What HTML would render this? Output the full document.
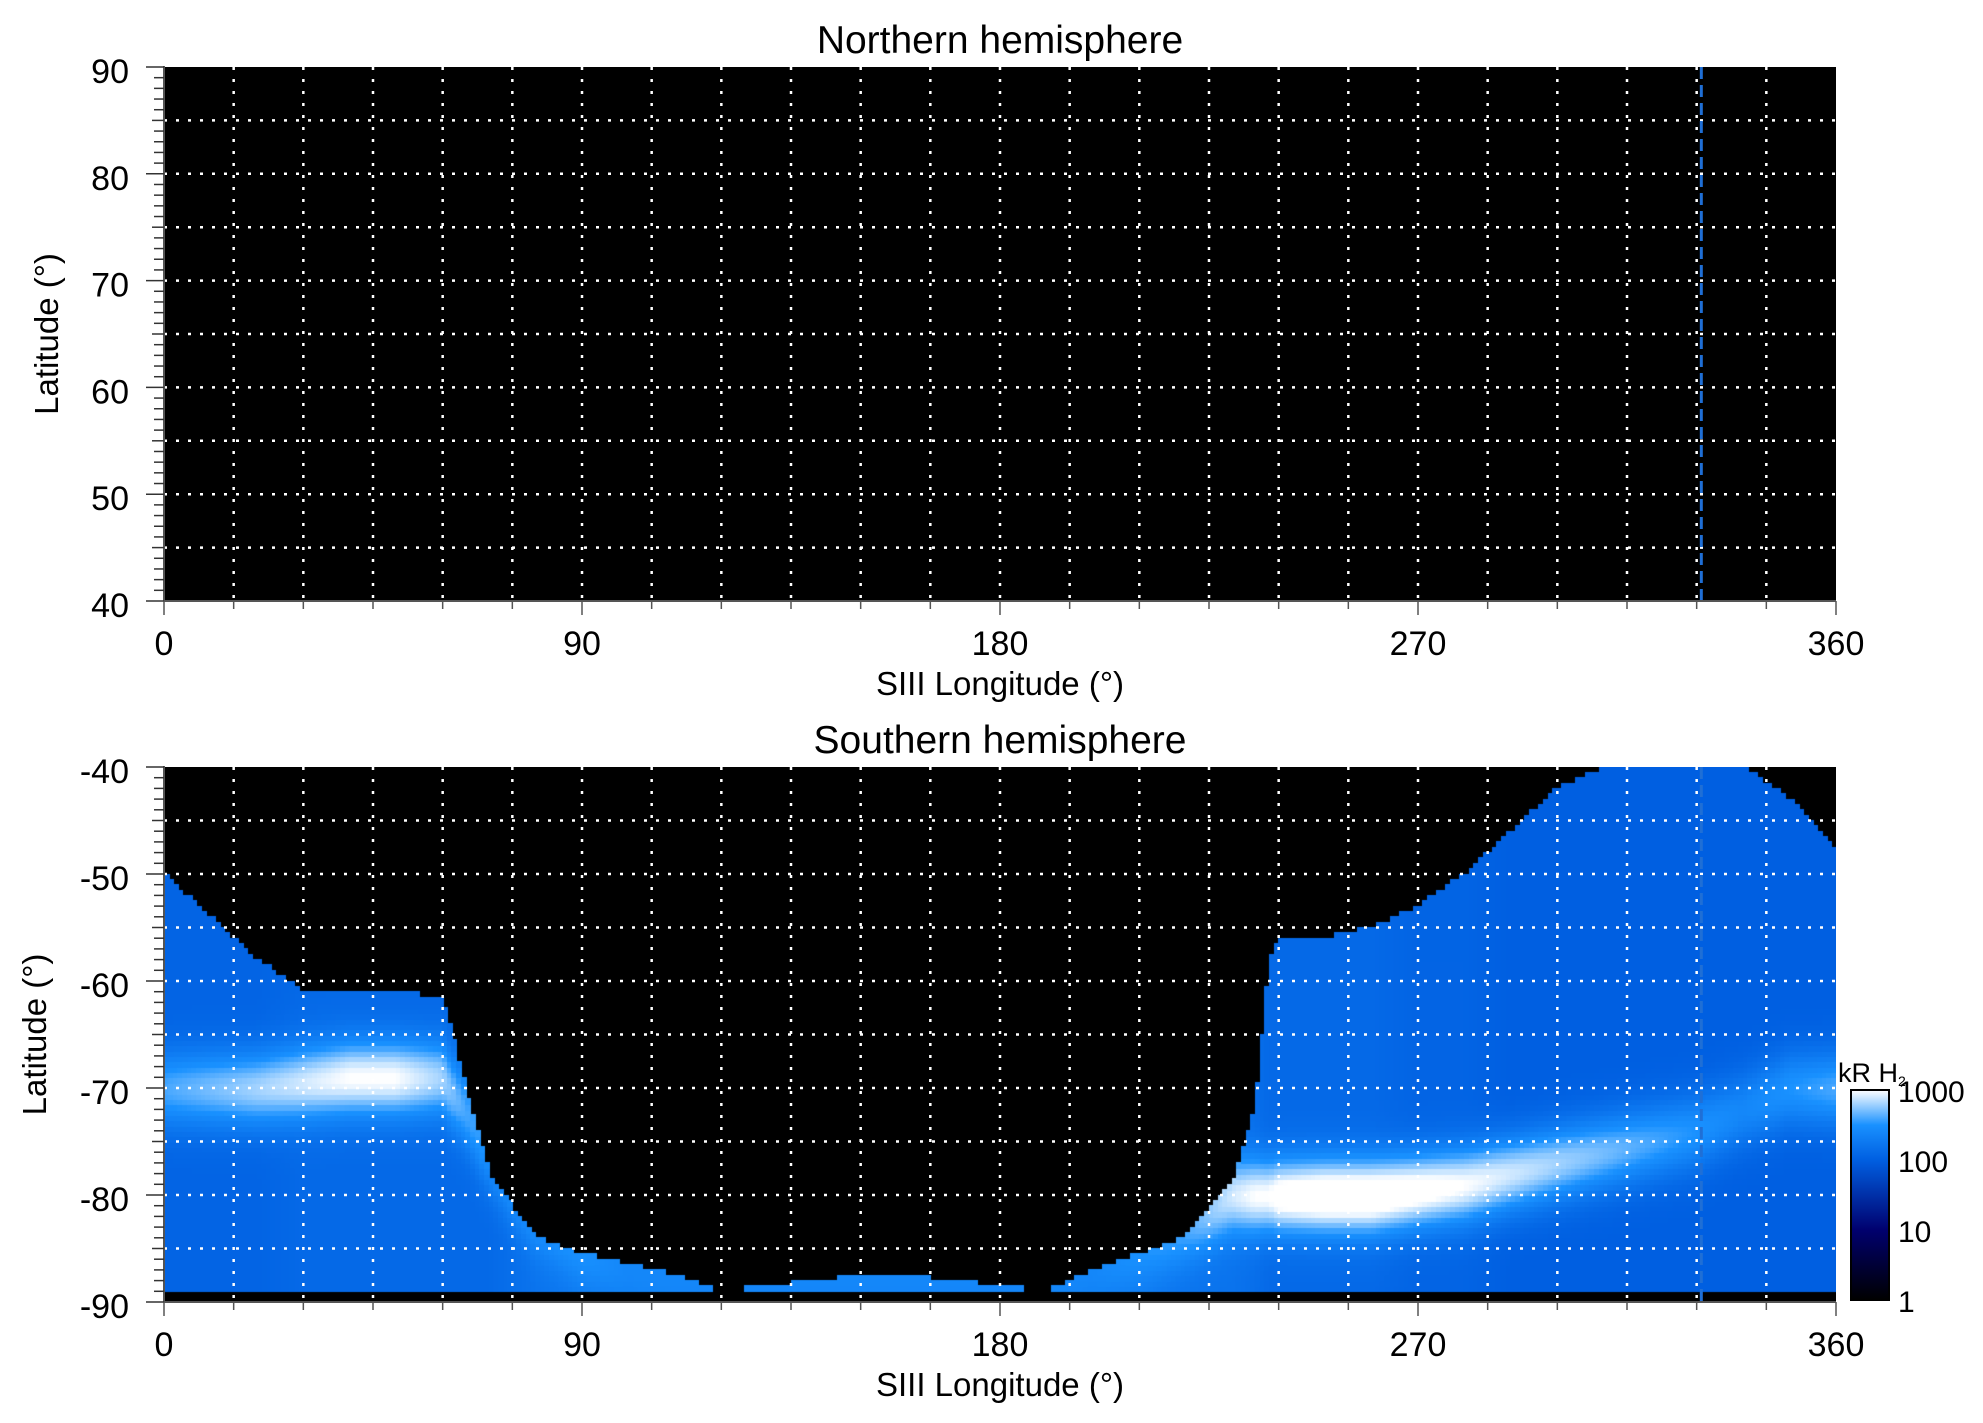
<!DOCTYPE html>
<html><head><meta charset="utf-8">
<style>
body{margin:0;background:#fff;width:1983px;height:1423px;overflow:hidden;font-family:"Liberation Sans",sans-serif;}
svg text{font-family:"Liberation Sans",sans-serif;fill:#000;}
#wrap{position:relative;width:1983px;height:1423px;}
canvas{position:absolute;left:164px;top:767px;}
svg{position:absolute;left:0;top:0;}
</style></head>
<body>
<div id="wrap">
<canvas id="heat" width="1672" height="535"></canvas>
<svg id="fig" width="1983" height="1423"></svg>
</div>
<script>
// data
const lonBins = [0,10,20,30,40,50,60,65,70,80,90,100,110,120,130,140,150,160,170,180,190,200,210,220,230,235,238,240,250,260,270,280,290,300,310,320,330,340,350,360];
const coverageLat = [-50,-54,-58,-61,-61,-61,-61.5,-70,-78,-84,-85.5,-86.5,-87.5,-89,-88.5,-88,-87.5,-87.5,-88,-88.5,-89,-87,-85.5,-84,-79,-72,-58,-56,-56,-55,-53,-50,-46,-42,-40,-40,-40,-40,-43,-48];
const ovalLat = [-70,-70,-70,-69.5,-69,-69,-69,-72,-76,-82,-85,-87,-88,-88,-88,-88,-88,-88,-88,-88,-88,-87,-85,-83,-80,-80,-80,-80,-80,-80,-79.5,-79,-78,-77,-76,-75,-74,-72,-70,-70];
const ovalPeak = [2.6,2.7,2.8,2.9,3.0,3.0,2.8,2.6,2.5,2.5,2.5,2.4,2.4,2.4,2.4,2.4,2.4,2.4,2.4,2.4,2.4,2.4,2.5,2.6,2.9,3.0,3.0,3.1,3.2,3.2,3.1,3.0,2.9,2.8,2.7,2.6,2.5,2.4,2.5,2.6];
const baseLevel = [2.05,2.05,2.05,2.1,2.1,2.1,2.1,2.1,2.1,2.2,2.25,2.25,2.25,2.25,2.25,2.25,2.25,2.25,2.25,2.25,2.25,2.25,2.25,2.2,2.2,2.15,2.1,2.1,2.1,2.1,2.05,2.05,2.0,2.0,2.0,2.0,2.0,2.0,2.0,2.0];
const xTicks = [0,90,180,270,360];
const northYTicks = [40,50,60,70,80,90];
const southYTicks = [-90,-80,-70,-60,-50,-40];
const cbTicks = [1,10,100,1000];
const dashedLon = 331;

const X0=164,X1=1836,W=X1-X0;
const N={top:67,bot:601,lo:40,hi:90}, S={top:767,bot:1302,lo:-90,hi:-40};
const xs=l=>X0+l/360*W;
const ys=(p,v)=>p.bot-(v-p.lo)/(p.hi-p.lo)*(p.bot-p.top);
function interp(arr,l){for(let i=0;i<lonBins.length-1;i++){if(l<=lonBins[i+1]){const t=(l-lonBins[i])/(lonBins[i+1]-lonBins[i]);return arr[i]+(arr[i+1]-arr[i])*t;}}return arr[arr.length-1];}
function cmap(v){ // v = log10 kR, 0..3
  const stops=[[0,0,0,0],[1,0,0,110],[2,0,95,225],[2.5,25,145,255],[3,255,255,255]];
  v=Math.max(0,Math.min(3,v));
  for(let i=0;i<stops.length-1;i++){const a=stops[i],b=stops[i+1];if(v<=b[0]){const t=(v-a[0])/(b[0]-a[0]);return `rgb(${Math.round(a[1]+(b[1]-a[1])*t)},${Math.round(a[2]+(b[2]-a[2])*t)},${Math.round(a[3]+(b[3]-a[3])*t)})`;}}
  return '#fff';
}
// heatmap
const cv=document.getElementById('heat'),ctx=cv.getContext('2d');
ctx.fillStyle='#000';ctx.fillRect(0,0,cv.width,cv.height);
const dl=1,dlat=0.5;
for(let l=0;l<360;l+=dl){
  const lc=l+dl/2,cov=interp(coverageLat,lc),ol=interp(ovalLat,lc),pk=interp(ovalPeak,lc),bs=interp(baseLevel,lc);
  for(let la=-89;la<-40;la+=dlat){
    const lac=la+dlat/2; if(lac>cov) continue;
    const d=lac-ol; const v=bs+(pk-bs)*Math.exp(-d*d/(2*2.5*2.5));
    ctx.fillStyle=cmap(v);
    const x=xs(l)-X0,y=ys(S,la+dlat)-S.top;
    ctx.fillRect(Math.floor(x),Math.floor(y),Math.ceil(xs(l+dl)-xs(l))+1,Math.ceil(ys(S,la)-ys(S,la+dlat))+1);
  }
}
// svg overlay
const svg=document.getElementById('fig'),NS='http://www.w3.org/2000/svg';
function mk(t,a,parent){const e=document.createElementNS(NS,t);for(const k in a)e.setAttribute(k,a[k]);(parent||svg).appendChild(e);return e;}
function panel(p,name,title,yt){
  const g=mk('g',{});
  
  
  if(name==='north'){const r=mk('rect',{x:X0,y:p.top,width:W,height:p.bot-p.top,fill:'#000'},g);
    
    }
  for(let l=15;l<360;l+=15){const e=mk('line',{x1:xs(l),x2:xs(l),y1:p.top,y2:p.bot,stroke:'#fff','stroke-width':2.5,'stroke-dasharray':'3 9'},g);
    
    }
  for(let v=p.lo+5;v<p.hi;v+=5){const e=mk('line',{x1:X0,x2:X1,y1:ys(p,v),y2:ys(p,v),stroke:'#fff','stroke-width':2.5,'stroke-dasharray':'3 9'},g);
    
    }
  const dsh=mk('line',{x1:xs(dashedLon),x2:xs(dashedLon),y1:p.top,y2:p.bot,stroke:'#1f6fd6','stroke-width':3,'stroke-dasharray':'12 6'},g);
  
  
  const ax=mk('path',{d:`M${X0},${p.top-1}V${p.bot}H${X1}`,stroke:'#555','stroke-width':2,fill:'none'},g);
  
  
  for(let v=p.lo;v<=p.hi;v++){const len=(v%10===0)?18:(v%5===0?12:10);
    mk('line',{x1:X0-len,x2:X0,y1:ys(p,v),y2:ys(p,v),stroke:'#333','stroke-width':1.5},g);}
  for(let l=0;l<=360;l+=15){const len=(l%90===0)?14:8;mk('line',{x1:xs(l),x2:xs(l),y1:p.bot,y2:p.bot+len,stroke:'#555','stroke-width':1.5},g);}
  yt.forEach(v=>{const t=mk('text',{x:129,y:ys(p,v)+16,'font-size':34,'text-anchor':'end'},g);t.textContent=v;
    
    });
  xTicks.forEach(l=>{const t=mk('text',{x:xs(l),y:p.bot+54,'font-size':34,'text-anchor':'middle'},g);t.textContent=l;
    
    });
  const tt=mk('text',{x:(X0+X1)/2,y:p.top-14,'font-size':39,'text-anchor':'middle'},g);tt.textContent=title;
  
  
  const xt=mk('text',{x:(X0+X1)/2,y:p.bot+94,'font-size':33,'text-anchor':'middle'},g);xt.textContent='SIII Longitude (°)';
  
  
  const cy=(p.top+p.bot)/2, tx=name==='north'?58:46;
  const yt2=mk('text',{x:tx,y:cy,'font-size':33,'text-anchor':'middle',transform:`rotate(-90 ${tx} ${cy})`},g);yt2.textContent='Latitude (°)';
  
  
}
panel(N,'north','Northern hemisphere',northYTicks);
panel(S,'south','Southern hemisphere',southYTicks);
// colorbar
const CB={x:1851,w:38,top:1090,bot:1300};
const defs=mk('defs',{});
const lg=mk('linearGradient',{id:'cbg',x1:0,y1:1,x2:0,y2:0},defs);
for(let i=0;i<=30;i++){mk('stop',{offset:i/30,'stop-color':cmap(i/10)},lg);}
const cb=mk('rect',{x:CB.x,y:CB.top,width:CB.w,height:CB.bot-CB.top,fill:'url(#cbg)',stroke:'#000','stroke-width':2});


cbTicks.forEach(v=>{const y=CB.bot-Math.log10(v)/3*(CB.bot-CB.top);
  const t=mk('text',{x:1898,y:y+12,'font-size':30});t.textContent=v;
  
  });
const cbt=mk('text',{x:1838,y:1082,'font-size':27});cbt.innerHTML='kR H<tspan font-size="14" dy="4">2</tspan>';


</script>
</body></html>
